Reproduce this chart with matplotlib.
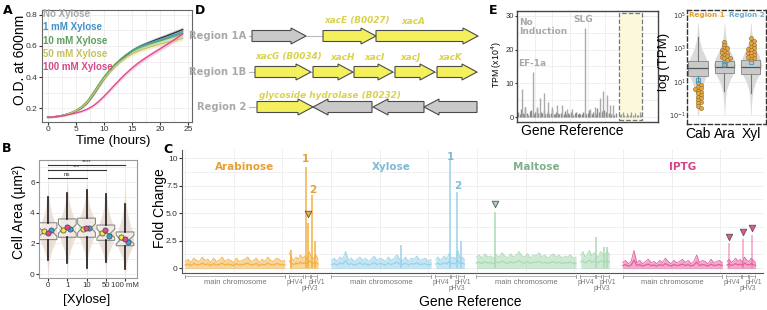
import numpy as np
import matplotlib
matplotlib.use('Agg')
import matplotlib.pyplot as plt
from matplotlib.patches import Polygon, Rectangle
from matplotlib.transforms import blended_transform_factory

plt.rcParams['font.family'] = ['Liberation Sans', 'DejaVu Sans']
W, H = 767, 310

# ---------------- DATA ----------------
# Panel A: growth curves (OD600 per hour)
time_h = list(range(25))
od_none = [0.140,0.143,0.148,0.155,0.165,0.180,0.200,0.232,0.278,0.333,0.388,0.435,0.475,0.510,0.540,0.568,0.590,0.607,0.622,0.636,0.650,0.663,0.677,0.691,0.706]
od_1mM = [0.140,0.143,0.148,0.155,0.166,0.182,0.203,0.235,0.282,0.337,0.390,0.437,0.477,0.512,0.543,0.570,0.590,0.605,0.618,0.630,0.642,0.654,0.666,0.679,0.693]
od_10mM = [0.140,0.143,0.148,0.156,0.168,0.185,0.208,0.242,0.292,0.348,0.400,0.445,0.483,0.516,0.545,0.568,0.586,0.600,0.612,0.623,0.634,0.645,0.657,0.669,0.682]
od_50mM = [0.140,0.143,0.148,0.155,0.166,0.182,0.204,0.236,0.283,0.337,0.388,0.432,0.470,0.502,0.528,0.549,0.566,0.580,0.592,0.603,0.613,0.622,0.631,0.640,0.650]
od_100mM = [0.140,0.142,0.146,0.152,0.160,0.168,0.178,0.192,0.212,0.240,0.275,0.313,0.352,0.390,0.425,0.458,0.487,0.513,0.537,0.560,0.582,0.605,0.628,0.652,0.678]
od_sd = [0.004,0.004,0.004,0.005,0.005,0.006,0.007,0.008,0.009,0.010,0.011,0.012,0.012,0.013,0.013,0.013,0.014,0.014,0.014,0.015,0.015,0.015,0.016,0.016,0.016]
series_names = ['No Xylose', '1 mM Xylose', '10 mM Xylose', '50 mM Xylose', '100 mM Xylose']

# Panel B: cell area
xylose_labels = ['0', '1', '10', '50', '100 mM']
b_q1 = [2.25, 2.40, 2.40, 2.20, 1.85]
b_med = [2.75, 2.95, 3.00, 2.65, 2.25]
b_q3 = [3.35, 3.60, 3.65, 3.20, 2.75]
b_wlo = [0.9, 0.7, 0.4, 0.8, 0.3]
b_whi = [5.0, 5.3, 5.5, 5.2, 4.6]
rep_yellow = [2.80, 2.85, 2.95, 2.70, 2.40]
rep_pink = [2.65, 3.05, 3.00, 2.85, 2.30]
rep_blue = [2.85, 2.95, 3.00, 2.50, 2.10]
dens_levels = [0, 0.5, 1, 1.5, 2, 2.5, 3, 3.5, 4, 4.5, 5, 5.5, 6]
dens_b = [
    [0.01,0.03,0.08,0.18,0.34,0.44,0.42,0.30,0.18,0.10,0.05,0.02,0.01],
    [0.01,0.02,0.06,0.14,0.28,0.40,0.44,0.38,0.24,0.13,0.06,0.03,0.01],
    [0.01,0.02,0.05,0.12,0.26,0.38,0.44,0.40,0.26,0.14,0.07,0.03,0.01],
    [0.01,0.03,0.07,0.18,0.34,0.44,0.40,0.28,0.16,0.09,0.05,0.02,0.01],
    [0.02,0.05,0.12,0.28,0.42,0.42,0.32,0.20,0.12,0.07,0.04,0.02,0.00],
]
sig_pairs = [(0, 2, 6.3, 'ns'), (0, 3, 6.8, '***'), (0, 4, 7.15, '****')]

# Panel C: fold change across genome (upper envelope of the noisy trace + peaks)
conditions = ['Arabinose', 'Xylose', 'Maltose', 'IPTG']
ara_main = [0.6,0.8,0.5,0.9,0.7,0.6,1.0,0.7,0.8,0.5,0.9,0.6,0.7,1.0,0.6,0.8,0.7,0.5,0.9,0.6,0.7,0.8,1.0,0.6,0.7,0.9,0.5,0.8,0.6,1.0,0.7,0.6,0.9,0.8,0.6,0.7]
ara_plas = [1.4,0.9,0.7,1.0,0.8,1.2,0.9,1.1,0.8,1.5,1.0,0.9,1.2,0.8]
ara_peak_x = [79.5, 90.7, 92.5, 95.6, 97.7]
ara_peak_y = [1.6, 9.2, 4.1, 6.6, 2.5]
xyl_main = [0.7,0.9,0.6,1.0,0.8,1.5,0.7,0.9,0.6,0.8,1.0,0.7,0.9,0.6,0.8,1.1,0.7,0.9,0.8,0.6,1.0,0.7,0.9,1.2,0.8,0.7,1.0,0.6,0.9,0.8,1.1,0.7,0.8,0.9,0.6,0.8]
xyl_plas = [0.8,1.0,0.7,0.9,1.1,0.8,1.3,0.9,1.0,0.8,1.6,0.9,1.0,0.8]
xyl_peak_x = [52.6, 89.5, 94.7, 97.7]
xyl_peak_y = [2.1, 9.8, 6.9, 2.5]
mal_main = [1.0,1.2,0.9,1.3,1.0,1.1,0.9,1.2,1.0,1.4,1.1,0.9,1.3,1.0,1.2,1.5,1.1,1.0,1.3,0.9,1.2,1.1,1.4,1.0,1.2,0.9,1.1,1.3,1.0,1.2,0.9,1.1,1.0,1.2,0.9,1.0]
mal_plas = [1.2,1.5,1.0,1.3,1.6,1.1,1.4,1.2,1.0,1.5,1.3,1.1,1.6,1.2]
mal_peak_x = [14.3, 90.0, 96.0, 98.5]
mal_peak_y = [5.1, 2.8, 1.9, 1.9]
ipt_main = [0.5,0.7,0.4,0.6,1.6,0.5,0.7,0.4,0.6,0.8,0.5,0.6,0.4,0.7,0.5,0.9,0.6,0.4,0.7,0.5,0.6,0.8,0.5,0.7,0.4,0.6,1.2,0.5,0.7,0.6,0.4,0.8,0.5,0.6,0.7,0.5]
ipt_plas = [0.6,0.8,0.5,0.7,0.9,0.6,0.8,0.5,1.0,0.7,0.6,0.9,0.7,0.5]
ipt_peak_x = [79.7, 90.2, 97.7]
ipt_peak_y = [2.3, 2.6, 3.0]
peak_num_x = {'Arabinose': [90.7, 96.2], 'Xylose': [89.5, 95.0]}
peak_num_y = {'Arabinose': [9.9, 7.1], 'Xylose': [10.1, 7.5]}
tri_x = {'Arabinose': [92.5], 'Maltose': [14.3], 'IPTG': [79.7, 90.2, 97.7]}
tri_y = {'Arabinose': [4.9], 'Maltose': [5.8], 'IPTG': [2.8, 3.3, 3.6]}
chrom_parts = [('main chromosome', 0, 75), ('pHV4', 78, 89), ('pHV3', 90, 94), ('pHV1', 95, 99.5)]

# Panel D: gene clusters (start, end, strand, colour)  units ~ kb
region_names = ['Region 1A', 'Region 1B', 'Region 2']
genes_1A = [(0.0, 2.7, 1, 'g'), (3.55, 6.2, 1, 'y'), (6.2, 11.3, 1, 'y')]
genes_1B = [(0.15, 2.95, 1, 'y'), (3.05, 5.05, 1, 'y'), (5.1, 7.05, 1, 'y'), (7.15, 9.15, 1, 'y'), (9.25, 11.25, 1, 'y')]
genes_2 = [(0.25, 3.05, 1, 'y'), (3.05, 6.0, -1, 'g'), (6.05, 8.6, -1, 'g'), (8.6, 11.25, -1, 'g')]
labels_1A = [('xacE (B0027)', 5.25), ('xacA', 8.05)]
labels_1B = [('xacG (B0034)', 1.85), ('xacH', 4.55), ('xacI', 6.1), ('xacJ', 7.9), ('xacK', 9.9)]
labels_2 = [('glycoside hydrolase (B0232)', 3.9)]

# Panel E left: TPM (x10^4)
tpm_bg = [1.5,0.8,2.5,1.2,0.9,3.0,1.1,0.7,1.8,2.2,1.0,0.8,1.4,2.8,1.2,0.9,1.6,1.1,2.0,0.8,1.3,1.7,0.9,1.2,2.4,1.0,0.8,1.5,1.1,0.9,1.3,0.7,1.0,1.8,0.9,1.2,0.8,1.4,1.0,0.7,1.1,1.6,0.9,1.3,0.8,1.0,1.5,1.2,0.9,1.1,2.0,1.3,0.8,1.6,1.1,0.9,2.6,1.4,1.0,1.8,1.2,2.2,1.5,0.9,1.3,1.1,0.8,1.0,0.7,1.2]
tpm_hl = [0.5,0.8,1.5,0.6,0.4,1.3,0.7,0.5,1.6,0.6,0.4,1.2,0.7,0.5,1.4,0.6]
spike_x = [3.5, 5.7, 11.3, 14.2, 16.3, 19.1, 22.0, 24.8, 28.4, 31.9, 35.5, 39.0, 48.2, 51.8, 55.3, 58.9, 61.0, 63.8, 66.0, 68.0]
spike_y = [8.3, 3.0, 13.4, 3.0, 5.6, 7.1, 4.5, 3.0, 3.5, 3.5, 2.5, 2.5, 26.4, 2.5, 3.0, 5.5, 7.6, 6.5, 3.5, 3.5]

# Panel E right: log10 TPM
e_groups = ['Cab', 'Ara', 'Xyl']
e_q1 = [1.36, 1.50, 1.45]
e_med = [1.85, 1.88, 1.88]
e_q3 = [2.27, 2.25, 2.28]
e_wlo = [0.0, 0.45, 0.35]
e_whi = [3.7, 3.5, 3.6]
e_levels = [-1, -0.5, 0, 0.5, 1, 1.5, 2, 2.5, 3, 3.5, 4, 4.5]
e_dens = [
    [0.02,0.04,0.07,0.12,0.22,0.36,0.40,0.28,0.14,0.06,0.03,0.01],
    [0.01,0.02,0.04,0.08,0.18,0.34,0.42,0.32,0.16,0.07,0.03,0.01],
    [0.01,0.02,0.04,0.08,0.18,0.34,0.42,0.32,0.17,0.07,0.03,0.01],
]
reg1_vals = [
    [0.9,0.8,0.7,0.6,0.55,0.45,0.4,0.3,0.2,0.1,0.0,-0.1,-0.2,-0.3,-0.45,-0.6],
    [3.4,3.2,3.05,3.0,2.9,2.85,2.75,2.7,2.6,2.55,2.5,2.45,2.4,2.3,2.2,2.0],
    [3.6,3.45,3.3,3.2,3.1,3.0,2.95,2.9,2.8,2.75,2.7,2.6,2.55,2.5,2.4,2.35],
]
reg2_vals = [[1.1], [2.05], [2.2]]

# ---------------- FIGURE ----------------
fig = plt.figure(figsize=(W/100, H/100), dpi=100)

def px_axes(l, t, r, b):
    return fig.add_axes([l/W, 1-b/H, (r-l)/W, (b-t)/H])

def ftext(x, y, s, **kw):
    return fig.text(x/W, 1-y/H, s, **kw)

GRID = '#ececec'
SP = '#666666'

# panel letters
for lt, x, y in [('A', 8, 10), ('B', 7, 148), ('C', 168, 149), ('D', 200, 11), ('E', 493, 10)]:
    ftext(x, y, lt, fontsize=9, fontweight='bold', ha='center', va='center', family='DejaVu Sans')

# ---------- Panel A ----------
axA = px_axes(42, 10, 192, 122)
axA.set_xlim(-1.0, 25.66)
axA.set_ylim(0.11, 0.832)
axA.set_xticks([0, 5, 10, 15, 20, 25])
axA.set_xticks(np.arange(2.5, 25, 5), minor=True)
axA.set_yticks([0.2, 0.4, 0.6, 0.8])
axA.set_yticks([0.3, 0.5, 0.7], minor=True)
axA.grid(True, which='both', color=GRID, lw=0.6)
axA.set_axisbelow(True)
axA.tick_params(which='minor', length=0)
axA.tick_params(labelsize=6, length=2, pad=1, colors='#333')
for s in axA.spines.values():
    s.set_color(SP); s.set_linewidth(0.8)
a_series = [od_none, od_1mM, od_10mM, od_50mM, od_100mM]
a_line = ['#333333', '#4c9fd0', '#5aa55a', '#c8c466', '#e04c90']
a_fill = ['#9a9a9a', '#8cc8ea', '#9fd29f', '#e2df9a', '#f09ac0']
a_text = ['#a8a8a8', '#3f92c8', '#5f9f5f', '#c9c25c', '#d8488a']
sd = np.array(od_sd)
for vals, lc, fc in zip(a_series, a_line, a_fill):
    v = np.array(vals)
    axA.fill_between(time_h, v - sd, v + sd, color=fc, alpha=0.45, lw=0)
    axA.plot(time_h, v, color=lc, lw=1.0)
for i, (nm, tc) in enumerate(zip(series_names, a_text)):
    ftext(43, 14 + 13.3*i, nm, color=tc, fontsize=7, fontweight='bold', va='center')
ftext(113, 141, 'Time (hours)', fontsize=9.5, ha='center', va='center')
ftext(20, 60, 'O.D. at 600nm', fontsize=10, ha='center', va='center', rotation=90)

# ---------- Panel B ----------
axB = px_axes(39, 160, 137, 278)
lv = np.array(dens_levels)
for i in range(5):
    w = np.array(dens_b[i])
    axB.fill_betweenx(lv, i - 1.05*w, i + 1.05*w, color='#ece2d2', alpha=0.95, lw=0, zorder=1)
    axB.fill_betweenx(lv, i - 0.55*w, i + 0.55*w, color='#e8d6e0', alpha=0.6, lw=0, zorder=1)
stats = []
for i in range(5):
    stats.append(dict(med=b_med[i], q1=b_q1[i], q3=b_q3[i], whislo=b_wlo[i], whishi=b_whi[i],
                      cilo=b_med[i]-0.28, cihi=b_med[i]+0.28, fliers=[]))
axB.bxp(stats, positions=range(5), widths=0.92, shownotches=True, patch_artist=True,
        showfliers=False, showcaps=False, manage_ticks=False,
        boxprops=dict(facecolor=(1, 1, 1, 0.35), edgecolor='#8a8a8a', lw=0.8),
        medianprops=dict(color='#8a8a8a', lw=0.8),
        whiskerprops=dict(color='#1a1a1a', lw=1.2), zorder=2)
xs = np.arange(5)
axB.scatter(xs - 0.2, rep_yellow, s=14, color='#f3e63c', edgecolor='#444', lw=0.5, zorder=4)
axB.scatter(xs + 0.15, rep_blue, s=14, color='#37a3dc', edgecolor='#444', lw=0.5, zorder=4)
axB.scatter(xs - 0.02, rep_pink, s=14, color='#e3468c', edgecolor='#444', lw=0.5, zorder=5)
for a, b, y, lab in sig_pairs:
    axB.plot([a, b], [y, y], color='#333', lw=0.8, zorder=3)
    axB.text((a + b)/2, y + 0.05, lab, fontsize=4.5, ha='center', va='bottom', color='#333')
axB.set_xlim(-0.47, 4.62)
axB.set_ylim(-0.26, 7.45)
axB.set_yticks([0, 2, 4, 6])
axB.set_yticks([1, 3, 5, 7], minor=True)
axB.set_xticks(range(5))
axB.set_xticklabels(xylose_labels)
axB.grid(True, which='both', color=GRID, lw=0.6)
axB.set_axisbelow(True)
axB.tick_params(which='minor', length=0)
axB.tick_params(labelsize=6, length=2, pad=1, colors='#333')
axB.tick_params(axis='x', labelsize=5.6)
for s in axB.spines.values():
    s.set_color('#999'); s.set_linewidth(0.8)
ftext(87, 300, '[Xylose]', fontsize=9.5, ha='center', va='center')
ftext(19, 212, 'Cell Area (µm²)', fontsize=10, ha='center', va='center', rotation=90)

# ---------- Panel C ----------
axC = px_axes(182, 150, 763, 273)
axC.set_xlim(-2.3, 434.6)
axC.set_ylim(-0.45, 10.73)
axC.set_yticks([0, 2.5, 5, 7.5, 10])
axC.set_yticklabels(['0', '2.5', '5.0', '7.5', '10'])
axC.set_yticks([1.25, 3.75, 6.25, 8.75], minor=True)
axC.set_xticks(np.arange(0, 434, 36.6))
axC.grid(True, which='both', color=GRID, lw=0.6)
axC.set_axisbelow(True)
axC.tick_params(axis='x', length=0, labelbottom=False)
axC.tick_params(which='minor', length=0)
axC.tick_params(axis='y', labelsize=6, length=2, pad=1, colors='#333')
axC.spines['top'].set_visible(False)
axC.spines['right'].set_visible(False)
for s in ['left', 'bottom']:
    axC.spines[s].set_color('#555'); axC.spines[s].set_linewidth(0.8)
offsets = [0, 110, 219, 329]
c_main = [ara_main, xyl_main, mal_main, ipt_main]
c_plas = [ara_plas, xyl_plas, mal_plas, ipt_plas]
c_px = [ara_peak_x, xyl_peak_x, mal_peak_x, ipt_peak_x]
c_py = [ara_peak_y, xyl_peak_y, mal_peak_y, ipt_peak_y]
c_col = ['#f2ad3a', '#94d0ea', '#a6d8b0', '#e4569a']
c_txt = ['#e5a033', '#7fbad4', '#80b08a', '#d8408a']
c_alpha = [0.5, 0.55, 0.55, 0.5]
trans = blended_transform_factory(axC.transData, fig.transFigure)
for k, cond in enumerate(conditions):
    o = offsets[k]
    col = c_col[k]
    xm = o + np.linspace(0, 75, len(c_main[k]))
    xp = o + np.linspace(78.5, 100, len(c_plas[k]))
    for xx, vv in [(xm, c_main[k]), (xp, c_plas[k])]:
        vv = np.array(vv)
        axC.fill_between(xx, -0.05, vv, color=col, alpha=c_alpha[k], lw=0, zorder=2)
        axC.plot(xx, vv, color=col, lw=0.6, alpha=0.9, zorder=2)
        axC.plot(xx, vv*0.45, color=col, lw=0.9, alpha=0.9, zorder=2)
    palpha = 0.55 if cond == 'IPTG' else 0.95
    axC.vlines(o + np.array(c_px[k]), 0, c_py[k], color=col, lw=1.1, alpha=palpha, zorder=3)
    axC.text(o + 45, 9.2, cond, color=c_txt[k], fontsize=7.5, fontweight='bold',
             ha='center', va='center', family='DejaVu Sans', zorder=5)
    if cond in peak_num_x:
        for j, (nx, ny) in enumerate(zip(peak_num_x[cond], peak_num_y[cond])):
            axC.text(o + nx, ny, str(j + 1), color=c_txt[k], fontsize=7.5, fontweight='bold',
                     ha='center', va='center', family='DejaVu Sans', zorder=5)
    if cond in tri_x:
        axC.scatter(o + np.array(tri_x[cond]), tri_y[cond], marker='v', s=22, color=col,
                    edgecolor='#555', lw=0.6, zorder=6)
    yb = 1 - 276/H
    for name, a, b in chrom_parts:
        axC.plot([o + a, o + b], [yb, yb], transform=trans, color='#aaa', lw=0.6, clip_on=False)
        for e in (a, b):
            axC.plot([o + e, o + e], [yb - 1.5/H, yb + 1.5/H], transform=trans, color='#999', lw=0.6, clip_on=False)
        if name == 'main chromosome':
            axC.text(o + (a + b)/2, 1 - 282/H, name, transform=trans, fontsize=5.5, color='#777', ha='center', va='center')
        elif name == 'pHV4':
            axC.text(o + (a + b)/2 - 1, 1 - 283/H, name, transform=trans, fontsize=4.8, color='#777', ha='center', va='center')
        elif name == 'pHV1':
            axC.text(o + (a + b)/2 + 1.5, 1 - 283/H, name, transform=trans, fontsize=4.8, color='#777', ha='center', va='center')
        else:
            axC.text(o + (a + b)/2 + 2, 1 - 289/H, name, transform=trans, fontsize=4.8, color='#777', ha='center', va='center')
ftext(470, 302, 'Gene Reference', fontsize=10, ha='center', va='center')
ftext(160, 208, 'Fold Change', fontsize=10, ha='center', va='center', rotation=90)

# ---------- Panel D ----------
axD = px_axes(185, 10, 484, 122)
axD.set_xlim(-3.35, 11.6)
axD.set_ylim(122, 10)
axD.axis('off')
row_y = [36, 72, 107]
lab_y = [21, 57, 95]
YEL = '#f4ef5c'
GRY = '#c9c9c9'
HEAD = 0.75
BODY = 5.5
HH = 8.0

def gene_arrow(ax, s, e, y, strand, c):
    L = e - s
    hl = min(HEAD, 0.4*L)
    if strand > 0:
        pts = [(s, y - BODY), (e - hl, y - BODY), (e - hl, y - HH), (e, y), (e - hl, y + HH), (e - hl, y + BODY), (s, y + BODY)]
    else:
        pts = [(e, y - BODY), (s + hl, y - BODY), (s + hl, y - HH), (s, y), (s + hl, y + HH), (s + hl, y + BODY), (e, y + BODY)]
    ax.add_patch(Polygon(pts, closed=True, facecolor=YEL if c == 'y' else GRY, edgecolor='#4a4a4a', lw=0.8, zorder=3))

for r, (genes, labs) in enumerate([(genes_1A, labels_1A), (genes_1B, labels_1B), (genes_2, labels_2)]):
    y = row_y[r]
    axD.plot([-0.15, genes[-1][1]], [y, y], color='#bbbbbb', lw=0.8, zorder=1)
    for s, e, st, c in genes:
        gene_arrow(axD, s, e, y, st, c)
    for txt, xc in labs:
        axD.text(xc, lab_y[r], txt, fontsize=6.4, fontweight='bold', fontstyle='italic', color='#d9d24a',
                 ha='center', va='center', family='DejaVu Sans')
    axD.text(-0.3, y, region_names[r], fontsize=7.2, fontweight='bold', color='#a9a9a9',
             ha='right', va='center', family='DejaVu Sans')

# ---------- Panel E left ----------
axE = px_axes(517, 11, 658, 122)
axE.set_xlim(0, 100)
axE.set_ylim(-1.48, 31.45)
axE.set_yticks([0, 10, 20, 30])
axE.set_yticks([5, 15, 25], minor=True)
axE.set_xticks([12.5, 25, 37.5, 50, 62.5, 75, 87.5])
axE.grid(True, which='both', color=GRID, lw=0.6)
axE.set_axisbelow(True)
axE.tick_params(axis='x', length=0, labelbottom=False)
axE.tick_params(which='minor', length=0)
axE.tick_params(axis='y', labelsize=5.5, length=1.5, pad=0.8, colors='#333')
for s in axE.spines.values():
    s.set_color('#444'); s.set_linewidth(1.0)
axE.add_patch(Rectangle((72.3, -0.9), 16.4, 31.8, facecolor='#fbf8dc', edgecolor='#777',
                        ls='--', lw=0.9, zorder=1))
axE.vlines(np.arange(1, len(tpm_bg) + 1), 0, tpm_bg, color='#8a8a8a', lw=1.0, zorder=2)
axE.vlines(np.linspace(73, 88, len(tpm_hl)), 0, tpm_hl, color='#9a9a9a', lw=0.9, zorder=2)
axE.vlines(spike_x, 0, spike_y, color='#aaaaaa', lw=1.0, zorder=2)
axE.text(1.5, 29.5, 'No\nInduction', fontsize=6.5, fontweight='bold', color='#a9a9a9', ha='left',
         va='top', linespacing=1.1, family='DejaVu Sans')
axE.text(47, 27.5, 'SLG', fontsize=6.5, fontweight='bold', color='#a9a9a9', ha='center', va='bottom', family='DejaVu Sans')
axE.text(10.5, 14.5, 'EF-1a', fontsize=6.5, fontweight='bold', color='#a9a9a9', ha='center', va='bottom', family='DejaVu Sans')
ftext(572, 131, 'Gene Reference', fontsize=10, ha='center', va='center')
ftext(497, 65, 'TPM (x10$^4$)', fontsize=6.3, ha='center', va='center', rotation=90)

# ---------- Panel E right ----------
axF = px_axes(687, 10, 766, 124)
axF.set_yscale('log')
el = 10 ** np.array(e_levels)
for i in range(3):
    w = np.array(e_dens[i])
    axF.fill_betweenx(el, i - w, i + w, color='#d6d6d6', alpha=0.9, lw=0, zorder=1)
fstats = []
for i in range(3):
    fstats.append(dict(med=10**e_med[i], q1=10**e_q1[i], q3=10**e_q3[i], whislo=10**e_wlo[i],
                       whishi=10**e_whi[i], fliers=[]))
axF.bxp(fstats, positions=[0, 1, 2], widths=0.72, patch_artist=True, showfliers=False, showcaps=False,
        manage_ticks=False,
        boxprops=dict(facecolor='#c8c8c8', edgecolor='#888', lw=0.7, alpha=0.9),
        medianprops=dict(color='#555', lw=0.9), whiskerprops=dict(color='#777', lw=0.8), zorder=2)

def swarm(vals, d=0.11, dy=0.15):
    placed = []
    offs = []
    for v in vals:
        cands = [0]
        for k in range(1, 5):
            cands += [k*d, -k*d]
        for c in cands:
            if all(abs(c - po) >= d*0.99 or abs(v - pv) >= dy for po, pv in placed):
                break
        placed.append((c, v))
        offs.append(c)
    return np.array(offs)

for i in range(3):
    v = np.array(reg1_vals[i])
    axF.scatter(i + swarm(v), 10**v, s=9, color='#e8a640', edgecolor='#8a6a30', lw=0.4, zorder=4)
    v2 = np.array(reg2_vals[i])
    axF.scatter(np.full(len(v2), float(i)), 10**v2, s=10, marker='s', facecolor='none',
                edgecolor='#4fa0c8', lw=0.8, zorder=5)
axF.set_ylim(10**-1.54, 10**5.3)
axF.set_xlim(-0.415, 2.57)
axF.set_yticks([1e-1, 1e1, 1e3, 1e5])
axF.set_yticklabels(['$10^{-1}$', '$10^{1}$', '$10^{3}$', '$10^{5}$'])
axF.yaxis.set_minor_locator(matplotlib.ticker.NullLocator())
axF.set_xticks([0, 1, 2])
axF.set_xticklabels(e_groups)
axF.grid(True, axis='y', color=GRID, lw=0.6)
axF.set_axisbelow(True)
axF.tick_params(axis='y', labelsize=4.8, length=0, pad=1, colors='#333')
axF.tick_params(axis='x', labelsize=10, length=0, pad=2)
for s in axF.spines.values():
    s.set_linestyle((0, (3, 2))); s.set_color('#333'); s.set_linewidth(1.0)
axF.text(0.25, 0.955, 'Region 1', transform=axF.transAxes, fontsize=5.2, fontweight='bold',
         color='#e0a030', ha='center', va='center', family='DejaVu Sans')
axF.text(0.76, 0.955, 'Region 2', transform=axF.transAxes, fontsize=5.2, fontweight='bold',
         color='#6fb0cc', ha='center', va='center', family='DejaVu Sans')
ftext(664, 62, 'log (TPM)', fontsize=9.5, ha='center', va='center', rotation=90)

fig.savefig('out.png', dpi=100)
